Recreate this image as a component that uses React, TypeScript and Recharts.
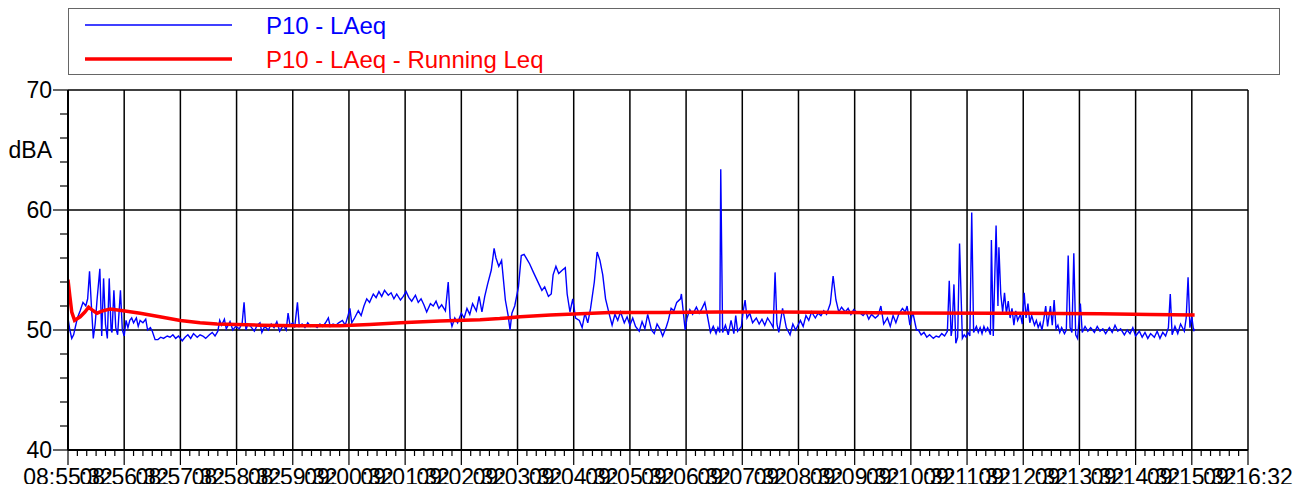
import React from 'react';
import { LineChart, Line, XAxis, YAxis, CartesianGrid } from 'recharts';

// Time axis: seconds from 08:55:32
const majorTickLabels = [
  '08:55:32', '08:56:32', '08:57:32', '08:58:32', '08:59:32', '09:00:32',
  '09:01:32', '09:02:32', '09:03:32', '09:04:32', '09:05:32', '09:06:32',
  '09:07:32', '09:08:32', '09:09:32', '09:10:32', '09:11:32', '09:12:32',
  '09:13:32', '09:14:32', '09:15:32', '09:16:32',
];
const yTickValues = [40, 42, 44, 46, 48, 50, 52, 54, 56, 58, 60, 62, 64, 65, 66, 68, 70];
const yLabelText = 'dBA';

const laeqTimes = [
  0, 2, 4, 6, 10, 13, 16, 19, 21, 23, 25, 27, 29, 31, 34, 36, 38, 40, 42, 44, 46, 47, 49, 51, 53, 56, 58,
  60, 62, 64, 66, 68, 70, 73, 75, 77, 80, 83, 85, 88, 90, 93, 96, 99, 102, 106, 109, 112, 115, 118,
  122, 125, 128, 131, 134, 138, 141, 144, 147, 151, 154, 157, 160, 162, 164, 167, 169, 171, 173, 176, 179,
  183, 186, 188, 190, 192, 195, 199, 202, 205, 207, 210, 214, 217, 220, 223, 226, 230, 233, 235, 237, 240,
  242, 245, 247, 250, 253, 256, 259, 263, 266, 269, 272, 275, 278, 280, 283, 286, 289,
  293, 296, 299, 301, 303, 306, 310, 313, 316, 319, 322, 326, 329, 332, 335, 338, 342, 345, 348, 351,
  355, 358, 361, 364, 367, 371, 374, 377, 380, 383, 387, 390, 393, 396, 399, 403, 406, 408, 410, 413,
  416, 420, 423, 426, 429, 432, 436, 439, 442, 445, 448, 452, 455, 457, 460, 463, 467, 470, 472, 474,
  477, 481, 484, 487, 490, 493, 497, 500, 503, 506, 509, 513, 516, 518, 521, 524, 528, 531, 533, 536,
  539, 542, 546, 549, 552, 555, 558, 562, 565, 568, 571, 574, 578, 581, 584, 587, 590, 594, 597, 600,
  603, 606, 610, 613, 616, 619, 623, 626, 629, 632,
  635, 639, 641, 644, 647, 650, 654, 655, 657, 659, 661, 664, 667, 671, 674, 677, 680, 682, 686, 689,
  692, 694, 696, 697, 699, 702, 705, 708, 711, 713, 715, 719, 721, 723, 725, 728, 731, 735, 738, 741,
  744, 747, 751, 753, 755, 757, 759,
  763, 767, 771, 774, 777, 782, 785, 788, 791, 794, 798, 801, 804, 807, 810, 814, 817, 820, 823, 826,
  830, 833, 836, 839, 842, 846, 849, 852, 855, 858, 862, 865, 868, 871, 875, 878, 881, 884, 887, 891,
  894, 896, 899, 902, 906,
  908, 911, 914, 917, 920, 924, 927, 930, 933, 936, 939, 941, 943, 944, 946, 948, 950, 952, 955, 957,
  959, 961, 963, 965, 967, 970, 972, 974, 976, 978, 980, 982, 985, 986, 988, 991, 993, 994, 996, 998,
  1000, 1002, 1004, 1006, 1008, 1010, 1012, 1014, 1017, 1019, 1021, 1023, 1025, 1027, 1029, 1032, 1034,
  1036, 1038, 1040, 1042, 1044, 1046, 1049, 1051, 1053, 1055, 1057, 1059, 1061, 1064, 1066, 1068, 1070,
  1072, 1074, 1076, 1078, 1081, 1083, 1086, 1089, 1092, 1096, 1099, 1102,
  1105, 1108, 1112, 1115, 1118, 1121, 1124, 1128, 1131, 1134, 1137, 1140, 1144, 1147, 1150, 1153, 1156,
  1160, 1163, 1166, 1169, 1172, 1175, 1177, 1179, 1182, 1185, 1188, 1192, 1194, 1196, 1198, 1200, 1202, 1203,
];

const laeqValues = [
  51.0, 50.0, 49.3, 49.6, 51.0, 51.6, 52.3, 52.0, 52.6, 54.9, 52.0, 49.3, 50.5, 52.5, 55.1, 49.5, 54.3, 50.5, 49.3, 54.3, 50.0, 49.8, 53.3, 50.2, 49.6, 53.3, 50.0,
  49.5, 50.8, 50.2, 50.8, 51.0, 50.6, 51.0, 50.3, 50.8, 50.6, 50.9, 50.0, 50.2, 49.9, 49.2, 49.2, 49.4, 49.3, 49.5, 49.4, 49.6, 49.3, 49.5,
  49.1, 49.4, 49.6, 49.3, 49.7, 49.4, 49.6, 49.5, 49.3, 49.6, 49.8, 49.5, 49.9, 50.8, 50.4, 50.9, 50.1, 50.4, 50.7, 50.0, 50.3,
  50.1, 50.6, 52.3, 50.0, 50.5, 50.3, 49.9, 50.4, 50.6, 49.8, 50.3, 50.0, 50.5, 50.2, 50.7, 49.9, 50.4, 50.0, 51.4, 50.4, 50.6,
  50.2, 52.3, 50.3, 50.5, 50.2, 50.6, 50.3, 50.4, 50.2, 50.5, 50.3, 50.6, 51.0, 50.3, 50.5, 50.4, 50.6,
  50.8, 50.4, 51.2, 51.8, 50.6, 51.0, 51.6, 51.2, 52.0, 52.6, 52.3, 53.0, 52.7, 53.2, 52.8, 53.3, 52.9, 53.1, 52.6, 53.0,
  52.5, 52.8, 53.2, 52.7, 52.4, 52.9, 52.3, 52.6, 52.1, 51.5, 52.2, 52.0, 52.4, 51.8, 52.1, 51.6, 54.0, 51.0, 50.3, 51.0,
  50.6, 51.4, 51.0, 51.8, 51.3, 52.2, 51.6, 52.8, 51.5, 52.8, 53.8, 55.0, 56.8, 56.0, 55.3, 55.8, 52.5, 51.2, 50.0, 51.4,
  52.0, 53.6, 56.2, 56.3, 55.9, 55.5, 54.8, 54.3, 53.8, 53.3, 53.6, 52.8, 53.0, 54.6, 55.3, 54.7, 55.0, 55.2, 53.0, 51.5,
  52.6, 51.0, 50.8, 50.2, 51.4, 50.6, 51.8, 54.0, 56.5, 55.8, 54.6, 52.6, 51.3, 50.4, 51.3, 50.8, 51.5, 50.6, 51.1, 50.4,
  51.0, 50.3, 49.9, 50.7, 50.1, 51.3, 50.0, 49.7, 50.5, 50.1,
  49.5, 50.3, 50.8, 51.8, 51.6, 52.3, 52.6, 53.0, 51.5, 50.0, 51.0, 51.7, 51.3, 51.9, 51.4, 51.8, 52.3, 51.5, 49.8, 50.3,
  49.7, 50.2, 49.8, 63.4, 49.8, 50.4, 49.6, 50.8, 49.7, 51.2, 49.9, 50.3, 51.6, 52.5, 51.0, 51.4, 50.6, 51.0, 50.5, 50.9,
  50.4, 51.0, 50.5, 50.2, 54.8, 50.5, 49.8,
  51.8, 50.2, 49.6, 50.5, 50.0, 50.8, 50.3, 51.2, 50.8, 51.5, 51.0, 51.4, 51.2, 51.6, 51.3, 52.2, 54.5, 52.5, 51.5, 51.9,
  51.5, 51.8, 51.3, 51.7, 51.5, 51.4, 51.2, 51.5, 50.9, 51.3, 51.0, 51.2, 52.0, 50.5, 51.0, 50.3, 51.2, 50.6, 51.3, 51.8,
  51.5, 52.0, 50.4, 51.5, 50.0,
  50.0, 49.6, 49.8, 49.4, 49.6, 49.3, 49.5, 49.4, 49.7, 49.5, 49.9, 54.1, 49.5, 50.0, 53.8, 48.9, 49.4, 57.2, 49.3, 49.6,
  49.4, 49.8, 49.5, 59.8, 49.8, 50.3, 49.8, 50.2, 49.7, 50.3, 49.9, 50.2, 49.6, 57.5, 49.5, 58.7, 52.0, 56.9, 53.0, 51.5,
  53.1, 51.4, 52.4, 51.0, 51.8, 50.4, 51.6, 50.8, 51.3, 50.5, 53.1, 51.0, 52.2, 50.6, 51.2, 50.4, 50.8,
  50.2, 50.6, 50.0, 50.9, 52.0, 50.3, 52.0, 50.4, 52.5, 50.1, 50.4, 49.8, 50.2, 49.7, 50.0, 56.2, 50.2,
  49.8, 56.4, 49.6, 49.3, 52.2, 49.8, 50.3, 49.9, 50.2, 49.8, 50.3, 49.9,
  50.1, 49.7, 50.2, 49.8, 50.4, 49.9, 50.1, 49.6, 50.0, 49.7, 50.2, 49.5, 49.9, 49.4, 49.8, 49.3, 49.7,
  49.4, 49.9, 49.3, 49.8, 49.5, 50.2, 53.0, 49.6, 50.3, 49.7, 50.5, 49.9, 51.0, 54.4, 50.2, 51.1, 49.9, 50.1,
];

const runningTimes = [
  0, 2, 4, 7, 13, 18, 22, 27, 31, 37, 45, 59, 77, 98, 120, 141, 159, 205, 248, 290, 322, 355, 397,
  440, 461, 483, 515, 547, 579, 632, 696, 760, 835, 888, 995, 1102, 1155, 1203,
];
const runningValues = [
  54.2, 52.8, 51.5, 50.8, 51.1, 51.5, 51.9, 51.6, 51.4, 51.6, 51.75, 51.6, 51.4, 51.1, 50.8, 50.6, 50.5,
  50.4, 50.35, 50.35, 50.45, 50.6, 50.75, 50.85, 50.95, 51.1, 51.25, 51.35, 51.45, 51.45, 51.5, 51.5,
  51.45, 51.42, 51.4, 51.35, 51.3, 51.25,
];

const laeqSeries = laeqTimes.map((t, i) => ({ t, v: laeqValues[i] }));
const runningSeries = runningTimes.map((t, i) => ({ t, v: runningValues[i] }));

const xTicks: number[] = [];
for (let s = 0; s <= 1260; s += 10) xTicks.push(s);
const majorTimes = majorTickLabels.map((_, i) => i * 60);

const FONT = '"Liberation Sans", Arial, sans-serif';

const XTick = (props: any) => {
  const { x, y, payload } = props;
  const v = payload.value as number;
  const major = v % 60 === 0;
  return (
    <g>
      <line x1={x} x2={x} y1={y} y2={y + (major ? 15 : 6)} stroke="#000" strokeWidth={1.2} />
      {major && (
        <text x={x} y={y + 35} textAnchor="middle" fontSize={23} fontFamily={FONT} fill="#000">
          {majorTickLabels[v / 60]}
        </text>
      )}
    </g>
  );
};

const YTick = (props: any) => {
  const { x, y, payload } = props;
  const v = payload.value as number;
  if (v === 65) {
    return (
      <text x={x - 16} y={y} textAnchor="end" dominantBaseline="central" fontSize={23} fontFamily={FONT} fill="#000">
        {yLabelText}
      </text>
    );
  }
  const major = v % 10 === 0;
  return (
    <g>
      <line x1={x - (major ? 15 : 8)} x2={x} y1={y} y2={y} stroke="#000" strokeWidth={1.2} />
      {major && (
        <text x={x - 16} y={y} textAnchor="end" dominantBaseline="central" fontSize={23} fontFamily={FONT} fill="#000">
          {v}
        </text>
      )}
    </g>
  );
};

const legendItems = [
  { label: 'P10 - LAeq', color: '#0000FF', width: 1.5 },
  { label: 'P10 - LAeq - Running Leq', color: '#FF0000', width: 3.5 },
];

export default function App() {
  return (
    <div style={{ position: 'relative', width: 1292, height: 476 }}>
      <LineChart width={1292} height={476} data={laeqSeries} margin={{ top: 82, right: 52, left: 0, bottom: 0 }}>
        <CartesianGrid
          stroke="#000"
          strokeWidth={1.5}
          fill="none"
          horizontalValues={[50, 60, 70]}
          verticalValues={[...majorTimes.slice(1)]}
        />
        <XAxis
          dataKey="t"
          type="number"
          domain={[0, 1260]}
          ticks={xTicks}
          interval={0}
          height={34}
          tickSize={0}
          tickMargin={0}
          tickLine={false}
          tick={<XTick />}
          axisLine={{ stroke: '#000', strokeWidth: 2 }}
          allowDataOverflow
        />
        <YAxis
          type="number"
          domain={[40, 70]}
          ticks={yTickValues}
          interval={0}
          width={60}
          tickSize={0}
          tickMargin={0}
          tickLine={false}
          tick={<YTick />}
          axisLine={{ stroke: '#000', strokeWidth: 2 }}
          allowDataOverflow
        />
        <Line
          data={laeqSeries}
          dataKey="v"
          type="linear"
          stroke="#0000FF"
          strokeWidth={1.4}
          dot={false}
          isAnimationActive={false}
        />
        <Line
          data={runningSeries}
          dataKey="v"
          type="linear"
          stroke="#FF0000"
          strokeWidth={3.5}
          dot={false}
          isAnimationActive={false}
        />
      </LineChart>
      <div
        style={{
          position: 'absolute',
          left: 60,
          top: 0,
          width: 1212,
          height: 67,
          border: '1px solid #666',
          boxSizing: 'border-box',
          background: '#fff',
        }}
      >
        <svg width={1210} height={65} style={{ display: 'block' }}>
          {legendItems.map((it, i) => {
            const cy = 16 + i * 34;
            return (
              <g key={it.label}>
                <line x1={16} x2={163} y1={cy} y2={cy} stroke={it.color} strokeWidth={it.width} />
                <text x={197} y={cy} dominantBaseline="central" fontSize={24} fontFamily={FONT} fill={it.color}>
                  {it.label}
                </text>
              </g>
            );
          })}
        </svg>
      </div>
    </div>
  );
}
